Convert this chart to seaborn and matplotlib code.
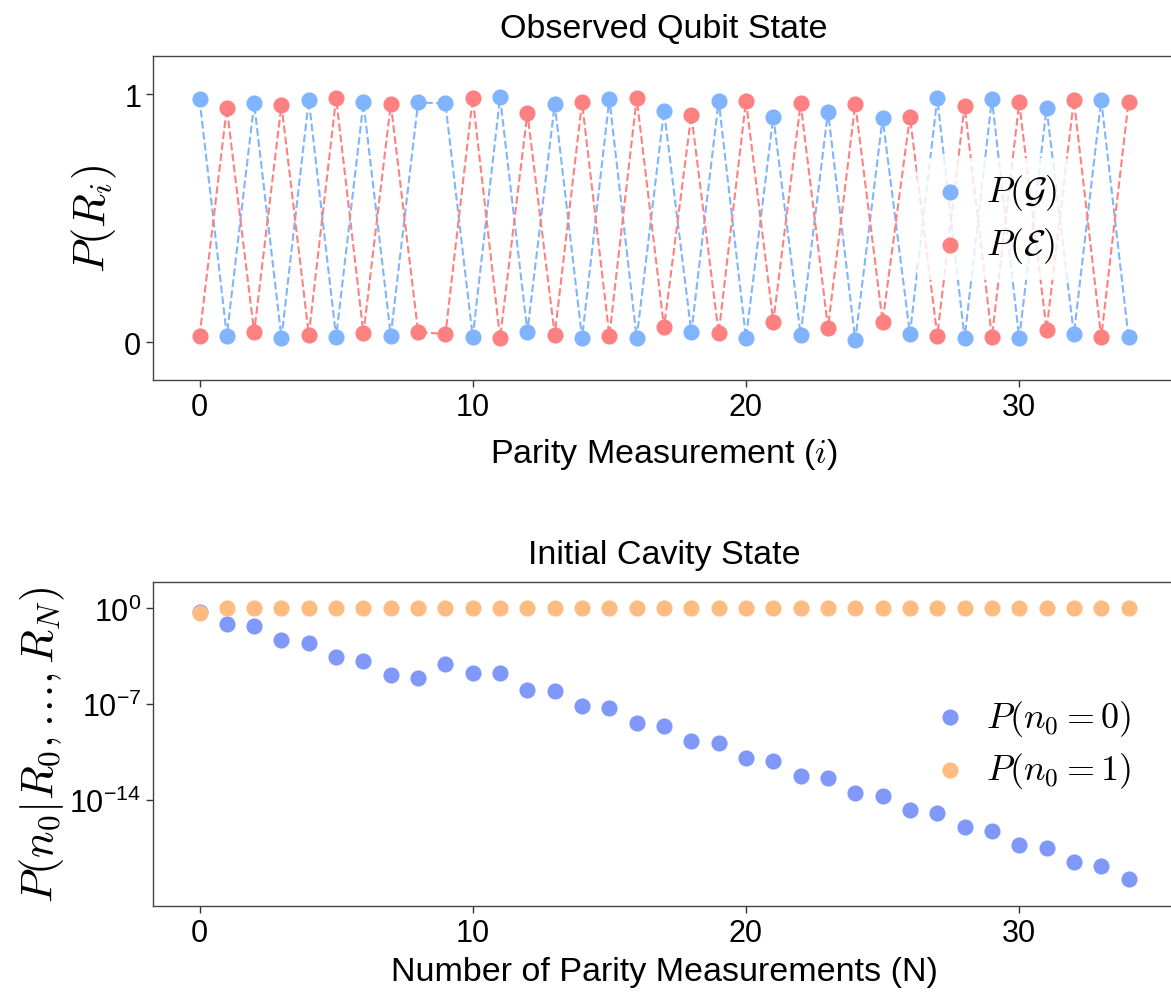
import matplotlib
matplotlib.use("Agg")
import matplotlib.pyplot as plt
from matplotlib import ticker
import seaborn as sns
import pandas as pd

sns.set_style("ticks")
plt.rcParams['font.family'] = ['Liberation Sans', 'DejaVu Sans']
plt.rcParams['mathtext.fontset'] = 'cm'
plt.rcParams['axes.unicode_minus'] = False
plt.rcParams['text.color'] = 'black'
plt.rcParams['axes.labelcolor'] = 'black'

# top panel: observed qubit state for each parity measurement
meas = list(range(35))
p_ground = [0.980, 0.027, 0.962, 0.017, 0.976, 0.021, 0.966, 0.027, 0.966, 0.962,
            0.021, 0.987, 0.043, 0.960, 0.017, 0.980, 0.016, 0.933, 0.040, 0.973,
            0.017, 0.909, 0.030, 0.929, 0.009, 0.902, 0.034, 0.983, 0.016, 0.980,
            0.016, 0.942, 0.032, 0.977, 0.020]
p_excited = [0.024, 0.944, 0.040, 0.957, 0.030, 0.984, 0.036, 0.960, 0.043, 0.032,
             0.984, 0.017, 0.923, 0.031, 0.966, 0.027, 0.983, 0.060, 0.917, 0.036,
             0.973, 0.083, 0.962, 0.059, 0.960, 0.083, 0.909, 0.027, 0.953, 0.020,
             0.966, 0.050, 0.976, 0.020, 0.968]

# bottom panel: posterior of initial photon number
n_meas = list(range(35))
p_n0_zero = [5.1e-1, 7.2e-2, 4.9e-2, 5.2e-3, 3.0e-3, 2.7e-4, 1.4e-4, 1.4e-5, 8.3e-6, 9.3e-5,
             1.8e-5, 1.8e-5, 1.2e-6, 9.3e-7, 7.8e-8, 5.1e-8, 4.4e-9, 2.8e-9, 2.2e-10, 1.4e-10,
             1.2e-11, 7.4e-12, 6.3e-13, 4.1e-13, 3.4e-14, 1.9e-14, 1.9e-15, 1.1e-15, 1.1e-16, 6.2e-17,
             5.5e-18, 3.3e-18, 3.0e-19, 1.7e-19, 1.7e-20]
p_n0_one = [0.49, 1.0, 1.0, 1.0, 1.0, 1.0, 1.0, 1.0, 1.0, 1.0,
            1.0, 1.0, 1.0, 1.0, 1.0, 1.0, 1.0, 1.0, 1.0, 1.0,
            1.0, 1.0, 1.0, 1.0, 1.0, 1.0, 1.0, 1.0, 1.0, 1.0,
            1.0, 1.0, 1.0, 1.0, 1.0]
log_ticks = [1e0, 1e-7, 1e-14]
log_ticklabels = [r"$\mathregular{10^{0}}$", r"$\mathregular{10^{-7}}$", r"$\mathregular{10^{-14}}$"]

c_ground = "#80b4ff"
c_excited = "#ff8080"
c_zero = "#8098fa"
c_one = "#ffbb80"

df_top = pd.DataFrame({"i": meas, "G": p_ground, "E": p_excited})
df_bot = pd.DataFrame({"N": n_meas, "zero": p_n0_zero, "one": p_n0_one})

fig = plt.figure(figsize=(11.71, 10.03), dpi=100)
ax1 = fig.add_axes([0.1307, 0.6201, 0.8727, 0.3228])
ax2 = fig.add_axes([0.1307, 0.0960, 0.8727, 0.3224])

# ---- top
sns.lineplot(data=df_top, x="i", y="G", ax=ax1, color=c_ground, linestyle="--", linewidth=1.5, legend=False)
sns.lineplot(data=df_top, x="i", y="E", ax=ax1, color=c_excited, linestyle="--", linewidth=1.5, legend=False)
sns.scatterplot(data=df_top, x="i", y="G", ax=ax1, color=c_ground, s=135, linewidth=0, label=r"$P(\mathcal{G})$", zorder=3)
sns.scatterplot(data=df_top, x="i", y="E", ax=ax1, color=c_excited, s=135, linewidth=0, label=r"$P(\mathcal{E})$", zorder=3)
ax1.set_xlim(-1.7, 35.7)
ax1.set_ylim(-0.152, 1.152)
ax1.set_yticks([0, 1])
ax1.set_xticks([0, 10, 20, 30])
ax1.set_title("Observed Qubit State", fontsize=24.5, pad=14)
ax1.set_xlabel(r"Parity Measurement ($i$)", fontsize=24.5, labelpad=10)
ax1.set_ylabel(r"$P(R_i)$", fontsize=32, labelpad=4)
ax1.legend(loc="center left", bbox_to_anchor=(0.7476, 0.498), fontsize=26, frameon=True,
           framealpha=0.8, edgecolor="none", borderaxespad=0, handlelength=1.0,
           handletextpad=0.5, labelspacing=0.35)

# ---- bottom
sns.scatterplot(data=df_bot, x="N", y="zero", ax=ax2, color=c_zero, s=135, linewidth=0, label=r"$P(n_0=0)$")
sns.scatterplot(data=df_bot, x="N", y="one", ax=ax2, color=c_one, s=135, linewidth=0, label=r"$P(n_0=1)$")
ax2.set_yscale("log")
ax2.set_xlim(-1.7, 35.7)
ax2.set_ylim(10 ** -21.69, 10 ** 1.90)
ax2.yaxis.set_major_locator(ticker.FixedLocator(log_ticks))
ax2.yaxis.set_major_formatter(ticker.FixedFormatter(log_ticklabels))
ax2.yaxis.set_minor_locator(ticker.NullLocator())
ax2.set_xticks([0, 10, 20, 30])
ax2.set_title("Initial Cavity State", fontsize=24.5, pad=14)
ax2.set_xlabel("Number of Parity Measurements (N)", fontsize=24.5, labelpad=6)
ax2.set_ylabel(r"$P(n_0|R_0,\ldots,R_N)$", fontsize=32, labelpad=2)
ax2.legend(loc="center left", bbox_to_anchor=(0.7476, 0.5), fontsize=26, frameon=False,
           borderaxespad=0, handlelength=1.0, handletextpad=0.5, labelspacing=0.35)

for ax in (ax1, ax2):
    ax.tick_params(axis="both", labelsize=22, length=5, width=1, color="#333333", labelcolor="black")
    for sp in ax.spines.values():
        sp.set_color("#444444")
        sp.set_linewidth(1.0)

fig.savefig("out.png", dpi=100)
